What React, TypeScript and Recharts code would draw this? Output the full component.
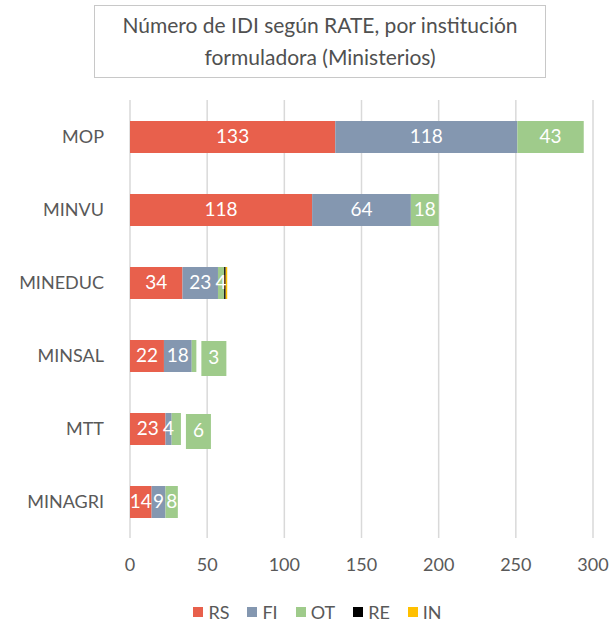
import { BarChart, Bar, XAxis, YAxis, CartesianGrid, LabelList } from "recharts";

const categories = ["MOP", "MINVU", "MINEDUC", "MINSAL", "MTT", "MINAGRI"];
const rs = [133, 118, 34, 22, 23, 14];
const fi = [118, 64, 23, 18, 4, 9];
const ot = [43, 18, 4, 3, 6, 8];
const re = [0, 0, 1, 0, 0, 0];
const inn = [0, 0, 1, 0, 0, 0];
const xTicks = [0, 50, 100, 150, 200, 250, 300];
// OT labels drawn as a callout box next to the bar
const otCallouts = ["MINSAL", "MTT"];

const series = [
  { key: "RS", color: "#E8604C", values: rs },
  { key: "FI", color: "#8497B0", values: fi },
  { key: "OT", color: "#9FCB8B", values: ot },
  { key: "RE", color: "#000000", values: re },
  { key: "IN", color: "#FFC000", values: inn },
];

const data = categories.map((name, i) => ({
  name,
  RS: rs[i],
  FI: fi[i],
  OT: ot[i],
  RE: re[i],
  IN: inn[i],
}));

const FONT = "Lato, 'Open Sans', sans-serif";
const GRAY = "#595959";

const makeLabel = (isOT: boolean, color: string) => (props: any) => {
  const { x, y, width, height, value, index } = props;
  if (!value) return null;
  if (isOT && otCallouts.includes(categories[index])) {
    const bx = x + width + 5;
    return (
      <g>
        <rect x={bx} y={y + 1} width={25} height={height + 3} fill={color} />
        <text x={bx + 12.5} y={y + height / 2 + 3} fill="#fff" fontSize={19} textAnchor="middle" dominantBaseline="middle" fontFamily={FONT}>
          {value}
        </text>
      </g>
    );
  }
  return (
    <text x={x + width / 2} y={y + height / 2 + 1} fill="#fff" fontSize={19} textAnchor="middle" dominantBaseline="middle" fontFamily={FONT}>
      {value}
    </text>
  );
};

export default function App() {
  return (
    <div style={{ position: "absolute", left: 0, top: 0, width: 615, height: 625, background: "#fff", fontFamily: FONT }}>
      <div
        style={{
          position: "absolute",
          left: 94,
          top: 5,
          width: 450,
          height: 68,
          border: "1px solid #c8c8c8",
          color: "#505050",
          fontSize: 21,
          lineHeight: "32px",
          textAlign: "center",
          paddingTop: 3,
        }}
      >
        Número de IDI según RATE, por institución
        <br />
        formuladora (Ministerios)
      </div>
      <BarChart
        width={615}
        height={625}
        data={data}
        layout="vertical"
        barSize={32}
        margin={{ top: 100, right: 22, left: 0, bottom: 57 }}
      >
        <CartesianGrid horizontal={false} stroke="#d9d9d9" strokeWidth={1.5} />
        <XAxis
          type="number"
          domain={[0, 300]}
          ticks={xTicks}
          axisLine={false}
          tickLine={false}
          tickMargin={14}
          height={30}
          tick={{ fill: GRAY, fontSize: 18, fontFamily: FONT }}
        />
        <YAxis
          type="category"
          dataKey="name"
          width={130}
          axisLine={false}
          tickLine={false}
          tickMargin={20}
          tick={{ fill: GRAY, fontSize: 18, fontFamily: FONT }}
        />
        {series.map((s) => (
          <Bar key={s.key} dataKey={s.key} stackId="a" fill={s.color} isAnimationActive={false}>
            {(s.key === "RS" || s.key === "FI" || s.key === "OT") && (
              <LabelList dataKey={s.key} content={makeLabel(s.key === "OT", s.color)} />
            )}
          </Bar>
        ))}
      </BarChart>
      <div
        style={{
          position: "absolute",
          left: 0,
          top: 601,
          width: 615,
          display: "flex",
          justifyContent: "center",
          gap: 18,
          color: GRAY,
          fontSize: 18,
          paddingLeft: 10,
        }}
      >
        {series.map((s) => (
          <div key={s.key} style={{ display: "flex", alignItems: "center", gap: 5 }}>
            <span style={{ width: 10, height: 10, background: s.color, display: "inline-block" }} />
            <span>{s.key}</span>
          </div>
        ))}
      </div>
    </div>
  );
}
